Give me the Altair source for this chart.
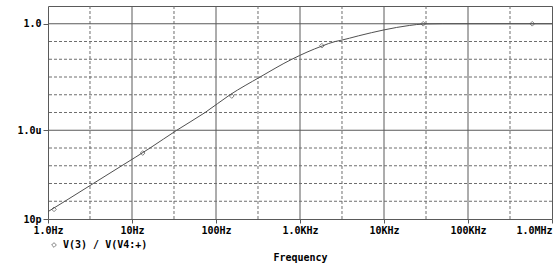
import altair as alt
import pandas as pd
import math

# curve readings (frequency Hz, V(3)/V(V4:+))
freq = [1.0, 1.59, 3.46, 7.55, 16.4, 34.1, 74.2, 147, 335, 800, 1836, 2623, 3008, 5000, 10000, 20000, 30000, 50000, 100000, 1000000]
ratio = [2.6e-11, 1e-10, 1e-9, 1e-8, 1e-7, 1e-6, 1e-5, 1e-4, 1e-3, 1e-2, 0.056, 0.1, 0.114, 0.21, 0.45, 0.80, 0.97, 1.0, 1.0, 1.0]

# trace markers
mark_freq = [1.18, 13.4, 154, 1820, 29300, 582000]
mark_ratio = [3.5e-11, 5.2e-8, 8.5e-5, 0.058, 1.0, 1.0]

series_name = "V(3) / V(V4:+)"

x_tick_vals = [1, 10, 100, 1000, 10000, 100000, 1000000]
x_tick_labels = ["1.0Hz", "10Hz", "100Hz", "1.0KHz", "10KHz", "100KHz", "1.0MHz"]
x_major_grid = [10, 100, 1000, 10000, 100000]
x_minor_grid = [3.162, 31.62, 316.2, 3162, 31623, 316228]

y_tick_vals = [1e-11, 1e-6, 1.0]
y_tick_labels = ["10p", "1.0u", "1.0"]
y_major_grid = [1e-6, 1.0]
y_minor_grid = [1e-10, 1e-9, 1e-8, 1e-7, 1e-5, 1e-4, 1e-3, 1e-2, 1e-1]

FONT = "DejaVu Sans Mono"
GRID = "#5a5a5a"
DASH = "#6e6e6e"
TRACE = "#505050"

curve = pd.DataFrame({"f": freq, "v": ratio, "s": series_name})
marks = pd.DataFrame({"f": mark_freq, "v": mark_ratio, "s": series_name})

xs = alt.Scale(type="log", domain=[1, 1e6], nice=False)
ys = alt.Scale(type="log", domain=[1e-11, 10], nice=False)


def lab_expr(vals, labels):
    parts = []
    for v, l in zip(vals, labels):
        parts.append(f"abs(log(datum.value)/LN10 - ({math.log10(v)})) < 0.01 ? '{l}'")
    return " : ".join(parts) + " : ''"


x_axis = alt.Axis(
    values=x_tick_vals,
    labelExpr=lab_expr(x_tick_vals, x_tick_labels),
    title="Frequency",
    grid=False,
    domain=False,
    ticks=True,
    tickSize=4,
    tickColor=GRID,
    labelFont=FONT,
    labelFontSize=10,
    labelFontWeight="bold",
    labelColor="black",
    labelPadding=2,
    labelAlign={"condition": {"test": "datum.value >= 999999", "value": "right"}, "value": "center"},
    labelOverlap=False,
    labelBound=False,
    titleFont=FONT,
    titleFontSize=10,
    titleFontWeight="bold",
    titleColor="black",
    titleBaseline="middle",
    titleY=38,
)

y_axis = alt.Axis(
    values=y_tick_vals,
    labelExpr=lab_expr(y_tick_vals, y_tick_labels),
    title=None,
    grid=False,
    domain=False,
    ticks=True,
    tickSize=5,
    tickColor=GRID,
    labelFont=FONT,
    labelFontSize=10,
    labelFontWeight="bold",
    labelColor="black",
    labelPadding=2,
    labelOverlap=False,
    labelBaseline="middle",
)

X = lambda: alt.X("f:Q", scale=xs, axis=x_axis)
Y = lambda: alt.Y("v:Q", scale=ys, axis=y_axis)

x_minor = alt.Chart(pd.DataFrame({"f": x_minor_grid})).mark_rule(
    color=DASH, strokeWidth=1, strokeDash=[3, 2]
).encode(x=X())

x_major = alt.Chart(pd.DataFrame({"f": x_major_grid})).mark_rule(
    color=GRID, strokeWidth=1
).encode(x=X())

y_minor = alt.Chart(pd.DataFrame({"v": y_minor_grid})).mark_rule(
    color=DASH, strokeWidth=1, strokeDash=[3, 2]
).encode(y=Y())

y_major = alt.Chart(pd.DataFrame({"v": y_major_grid})).mark_rule(
    color=GRID, strokeWidth=1
).encode(y=Y())

line = alt.Chart(curve).mark_line(
    color=TRACE, strokeWidth=1, interpolate="monotone"
).encode(x=X(), y=Y())

points = alt.Chart(marks).mark_point(
    shape="diamond", filled=False, size=22, strokeWidth=1
).encode(
    x=X(),
    y=Y(),
    color=alt.Color(
        "s:N",
        scale=alt.Scale(range=[TRACE]),
        legend=alt.Legend(
            orient="none",
            legendX=1,
            legendY=234,
            title=None,
            padding=0,
            symbolType="diamond",
            symbolSize=22,
            symbolStrokeWidth=1,
            symbolFillColor="white",
            labelFont=FONT,
            labelFontSize=10,
            labelFontWeight="bold",
            labelColor="black",
            labelOffset=4,
        ),
    ),
)

chart = alt.layer(x_minor, x_major, y_minor, y_major, line, points).properties(
    width=504,
    height=213,
    autosize=alt.AutoSizeParams(type="none"),
    padding={"left": 48, "top": 6, "right": 6, "bottom": 44},
    background="white",
).configure_view(stroke=GRID, strokeWidth=1)

chart.save("out.html", embed_options={"renderer": "svg", "actions": False})
